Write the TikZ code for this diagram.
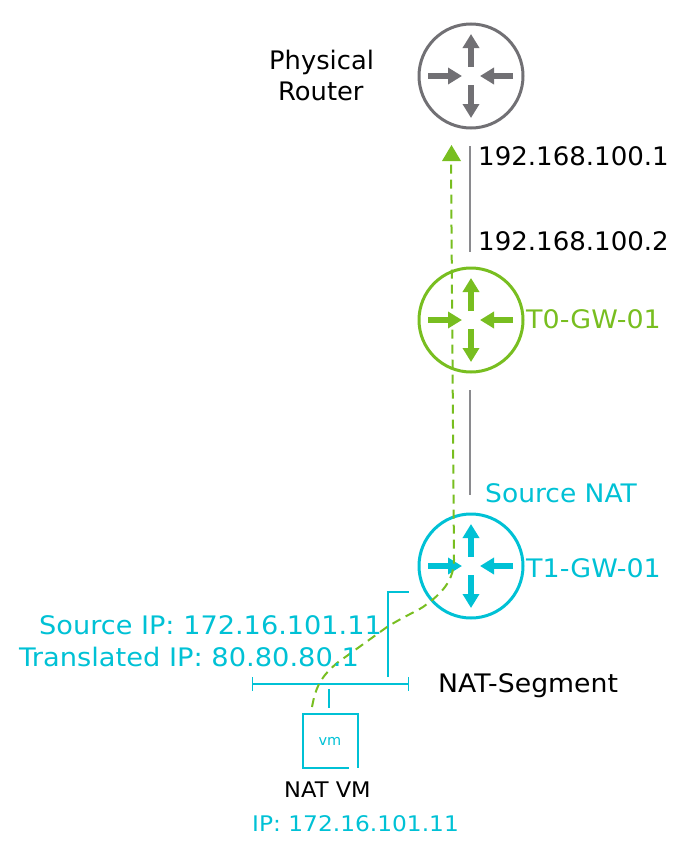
\documentclass[tikz,border=0pt]{standalone}
\usepackage{fontspec}
\setmainfont{DejaVu Sans}
\definecolor{rgrey}{HTML}{717074}
\definecolor{lgrey}{HTML}{8A8A8E}
\definecolor{rgreen}{HTML}{78BE20}
\definecolor{rcyan}{HTML}{00C1D5}
\usetikzlibrary{arrows.meta}
\tikzset{
  x=1pt,y=-1pt,
  routerring/.style={circle,draw=#1,line width=3pt,minimum size=104pt,inner sep=0pt},
  rarrow/.style={draw=#1,line width=6.5pt,-{Triangle[length=14pt,width=16pt,fill=#1]}},
  link/.style={draw=lgrey,line width=2pt},
  lbl/.style 2 args={font=\fontsize{#1}{#1}\selectfont,inner sep=0pt,anchor=base west,xscale=#2,transform shape},
  seg/.style={draw=rcyan,line width=1.6pt},
  flow/.style={draw=rgreen,line width=2pt,dash pattern=on 9pt off 6pt},
}
\newcommand{\routerarrows}[2]{%
  \draw[rarrow=#2] ([shift={(0,-9)}]#1.center) -- ([shift={(0,-42)}]#1.center);
  \draw[rarrow=#2] ([shift={(0,9)}]#1.center) -- ([shift={(0,42)}]#1.center);
  \draw[rarrow=#2] ([shift={(-43,0)}]#1.center) -- ([shift={(-9,0)}]#1.center);
  \draw[rarrow=#2] ([shift={(42,0)}]#1.center) -- ([shift={(9,0)}]#1.center);
}
\begin{document}
\begin{tikzpicture}
\useasboundingbox (0,0) rectangle (682,862);
\node[routerring=rgrey] (pr) at (471,76) {};
\node[routerring=rgreen] (t0) at (471,320) {};
\node[routerring=rcyan] (t1) at (471,566) {};
\routerarrows{pr}{rgrey}
\routerarrows{t0}{rgreen}
\routerarrows{t1}{rcyan}
% links
\coordinate (a1) at (470,146); \coordinate (a2) at (470,252);
\coordinate (b1) at (470,390); \coordinate (b2) at (470,495);
\draw[link] (a1) -- (a2);
\draw[link] (b1) -- (b2);
% segment
\coordinate (s1) at (253,684); \coordinate (s2) at (408,684);
\draw[seg] (s1) -- (s2);
\draw[seg] (252.5,677) -- (252.5,691);
\draw[seg] (408.5,677) -- (408.5,691);
\coordinate (k1) at (388,677); \coordinate (k2) at (388,592); \coordinate (k3) at (409,592);
\draw[seg] (k1) -- (k2) -- (k3);
% VM
\node[inner sep=0pt,minimum width=55pt,minimum height=54pt] (vm) at (330.5,741) {};
\draw[seg] (349,768) -- (303,768) -- (303,714) -- (358,714) -- (358,768);
\coordinate (v1) at (329,689); \coordinate (v2) at (329,708);
\draw[seg] (v1) -- (v2);
\node[font=\fontsize{14.5}{14.5}\selectfont,text=rcyan,inner sep=0pt] at (330,741) {vm};
% flow
\coordinate (f0) at (312,707); \coordinate (f1) at (451,161);
\draw[flow] (f0) .. controls (316,685) and (322,676) .. (337,663)
  -- (387,627) .. controls (405,616) and (415,612) .. (423,607)
  .. controls (435,598) and (454,585) .. (454,560) -- (f1);
\fill[rgreen] (451.5,145) -- (461,161) -- (442,161) -- cycle;
% labels
\node[lbl={25.5}{1.01}] (l1) at (269,69) {Physical};
\node[lbl={25.5}{1.01}] (l2) at (278,100) {Router};
\node[lbl={25.5}{1.022}] (l3) at (478,165) {192.168.100.1};
\node[lbl={25.5}{1.022}] (l4) at (478,250) {192.168.100.2};
\node[lbl={25.5}{1.055},text=rgreen] (l5) at (526,328) {T0-GW-01};
\node[lbl={25.5}{1.04},text=rcyan] (l6) at (485,502) {Source NAT};
\node[lbl={25.5}{1.055},text=rcyan] (l7) at (526,577) {T1-GW-01};
\node[lbl={25.5}{1.065},text=rcyan] (l8) at (39,634) {Source IP: 172.16.101.11};
\node[lbl={25.5}{1.07},text=rcyan] (l9) at (19,666) {Translated IP: 80.80.80.1};
\node[lbl={25.5}{1.047}] (l10) at (438,692) {NAT-Segment};
\node[lbl={21.5}{1.05}] (l11) at (284,797) {NAT VM};
\node[lbl={21.5}{1.084},text=rcyan] (l12) at (252,831) {IP: 172.16.101.11};
\end{tikzpicture}
\end{document}
